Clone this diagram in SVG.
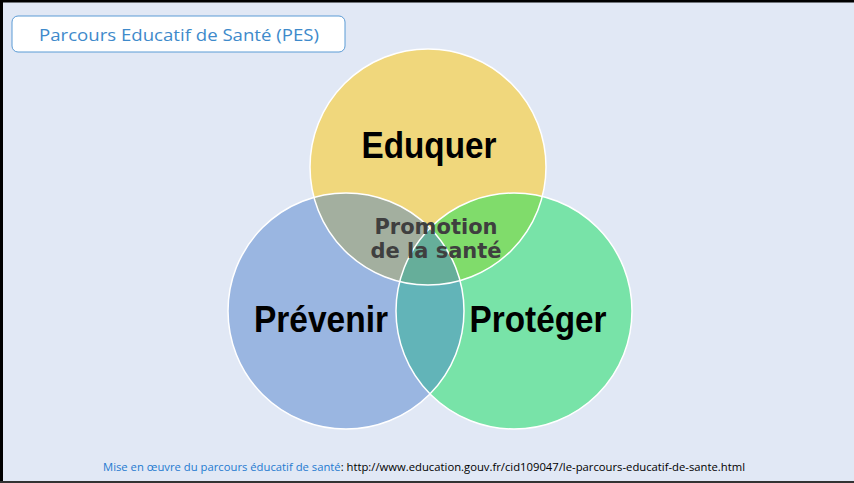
<svg xmlns="http://www.w3.org/2000/svg" width="854" height="483" viewBox="0 0 854 483">
<style>
.big{font-family:"Liberation Sans",Arial,sans-serif;font-weight:bold;font-size:37px;fill:#000;text-anchor:middle}
.mid{font-family:"DejaVu Sans",Verdana,sans-serif;font-weight:bold;font-size:21px;fill:#3F3F3F;text-anchor:middle}
.edge{fill:none;stroke:#FFFFFF;stroke-width:1.5}
</style>
<defs>
<clipPath id="cy"><circle cx="428" cy="167" r="118"/></clipPath>
<clipPath id="cb"><circle cx="346" cy="311" r="118"/></clipPath>
<clipPath id="cg"><circle cx="514" cy="311" r="118"/></clipPath>
</defs>
<rect x="0" y="0" width="854" height="483" fill="#E1E8F5"/>
<line x1="0" y1="1" x2="854" y2="1" stroke="#000" stroke-width="3"/>
<line x1="1.5" y1="0" x2="1.5" y2="483" stroke="#000" stroke-width="3"/>
<line x1="0" y1="482" x2="854" y2="482" stroke="#333" stroke-width="2"/>
<g id="title">
<rect x="12" y="16" width="333" height="36" rx="6" fill="#FFFFFF" stroke="#5B9BD5" stroke-width="1"/>
<text x="179" y="41" font-family="'Open Sans','Liberation Sans',sans-serif" font-size="17" fill="#3E8ACB" text-anchor="middle" textLength="280" lengthAdjust="spacingAndGlyphs">Parcours Educatif de Santé (PES)</text>
</g>
<g id="eduquer">
<circle cx="428" cy="167" r="118" fill="#F0D77C"/>
</g>
<g id="prevenir">
<circle cx="346" cy="311" r="118" fill="#9AB6E1"/>
</g>
<g id="proteger">
<circle cx="514" cy="311" r="118" fill="#78E3A8"/>
</g>
<g id="overlaps">
<g clip-path="url(#cy)"><circle cx="346" cy="311" r="118" fill="#A3AF9F"/><circle cx="514" cy="311" r="118" fill="#80DC6B"/></g>
<g clip-path="url(#cb)"><circle cx="514" cy="311" r="118" fill="#62B4B8"/></g>
<g clip-path="url(#cy)"><g clip-path="url(#cb)"><circle cx="514" cy="311" r="118" fill="#66AE9A"/></g></g>
<circle class="edge" cx="428" cy="167" r="118"/>
<circle class="edge" cx="346" cy="311" r="118"/>
<circle class="edge" cx="514" cy="311" r="118"/>
</g>
<g id="labels">
<text class="big" x="429" y="158" textLength="135" lengthAdjust="spacingAndGlyphs">Eduquer</text>
<text class="big" x="321" y="332" textLength="134" lengthAdjust="spacingAndGlyphs">Prévenir</text>
<text class="big" x="538" y="332" textLength="137" lengthAdjust="spacingAndGlyphs">Protéger</text>
<text class="mid" x="436" y="234">Promotion</text>
<text class="mid" x="436" y="258">de la santé</text>
</g>
<g id="footer">
<text x="103" y="471" font-family="'Open Sans','Liberation Sans',sans-serif" font-size="10" textLength="642" lengthAdjust="spacingAndGlyphs"><tspan fill="#1F7AD0">Mise en œuvre du parcours éducatif de santé</tspan><tspan fill="#000">: http://www.education.gouv.fr/cid109047/le-parcours-educatif-de-sante.html</tspan></text>
</g>
</svg>
